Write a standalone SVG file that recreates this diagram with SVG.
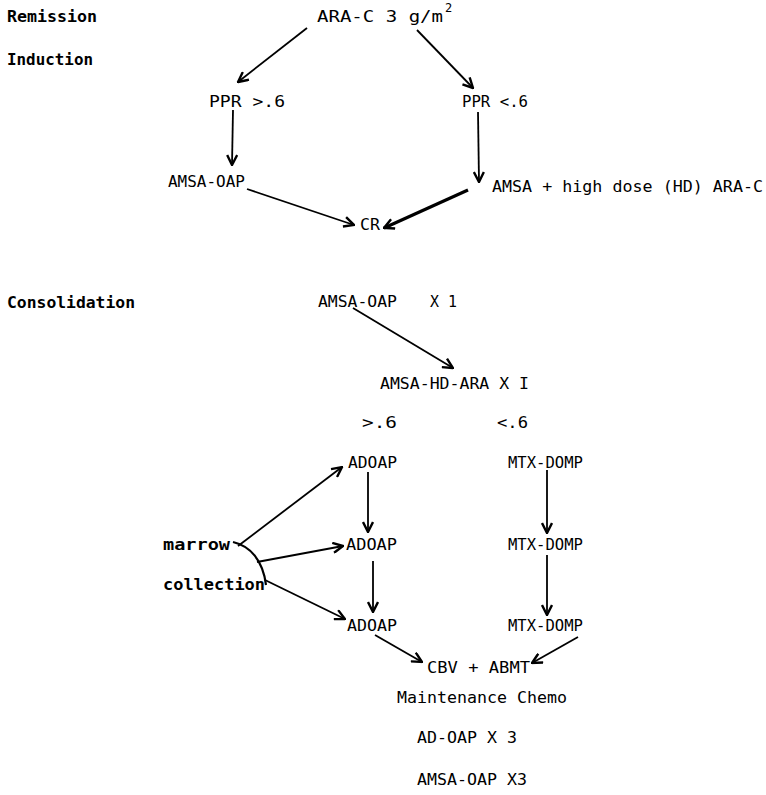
<svg xmlns="http://www.w3.org/2000/svg" width="766" height="795" viewBox="0 0 766 795">
<defs>
<style>
text{font-family:"DejaVu Sans Mono","Liberation Mono",monospace;font-size:16.5px;fill:#000}
.b{font-weight:bold;font-size:16px}
.sup{font-size:12px}
.ln{stroke:#000;stroke-width:1.8;fill:none;marker-end:url(#ah)}
.thick{stroke-width:3.2}
.curve{stroke:#000;stroke-width:2.2;fill:none}
</style>
<marker id="ah" markerUnits="userSpaceOnUse" viewBox="0 0 12 12" refX="11" refY="6" markerWidth="12" markerHeight="12" orient="auto">
<path d="M1,1 L11,6 L1,11" fill="none" stroke="#000" stroke-width="2.4"/>
</marker>
</defs>
<rect width="766" height="795" fill="#fff"/>
<g id="labels">
<text class="b" x="7" y="22" textLength="90" lengthAdjust="spacingAndGlyphs">Remission</text>
<text class="b" x="7" y="65" textLength="86" lengthAdjust="spacingAndGlyphs">Induction</text>
<text class="b" x="7" y="308" textLength="128" lengthAdjust="spacingAndGlyphs">Consolidation</text>
</g>
<g id="n-arac"><text x="317" y="22" textLength="126" lengthAdjust="spacingAndGlyphs">ARA-C 3 g/m</text><text class="sup" x="445" y="12">2</text></g>
<g id="n-ppr-hi"><text x="209" y="107" textLength="76" lengthAdjust="spacingAndGlyphs">PPR &gt;.6</text></g>
<g id="n-ppr-lo"><text x="462" y="107" textLength="66" lengthAdjust="spacingAndGlyphs">PPR &lt;.6</text></g>
<g id="n-amsa-oap"><text x="168" y="187" textLength="77" lengthAdjust="spacingAndGlyphs">AMSA-OAP</text></g>
<g id="n-amsa-hd"><text x="492" y="192" textLength="271" lengthAdjust="spacingAndGlyphs">AMSA + high dose (HD) ARA-C</text></g>
<g id="n-cr"><text x="360" y="230" textLength="20" lengthAdjust="spacingAndGlyphs">CR</text></g>
<g id="n-cons1"><text x="318" y="307" textLength="79" lengthAdjust="spacingAndGlyphs">AMSA-OAP</text><text x="430" y="307" textLength="27" lengthAdjust="spacingAndGlyphs">X 1</text></g>
<g id="n-cons2"><text x="380" y="389" textLength="149" lengthAdjust="spacingAndGlyphs">AMSA-HD-ARA X I</text></g>
<g id="n-gt"><text x="362" y="428" textLength="35" lengthAdjust="spacingAndGlyphs">&gt;.6</text></g>
<g id="n-lt"><text x="497" y="428" textLength="31" lengthAdjust="spacingAndGlyphs">&lt;.6</text></g>
<g id="n-adoap1"><text x="348" y="468" textLength="49" lengthAdjust="spacingAndGlyphs">ADOAP</text></g>
<g id="n-adoap2"><text x="346" y="550" textLength="51" lengthAdjust="spacingAndGlyphs">ADOAP</text></g>
<g id="n-adoap3"><text x="347" y="631" textLength="50" lengthAdjust="spacingAndGlyphs">ADOAP</text></g>
<g id="n-mtx1"><text x="508" y="468" textLength="75" lengthAdjust="spacingAndGlyphs">MTX-DOMP</text></g>
<g id="n-mtx2"><text x="508" y="550" textLength="75" lengthAdjust="spacingAndGlyphs">MTX-DOMP</text></g>
<g id="n-mtx3"><text x="508" y="631" textLength="75" lengthAdjust="spacingAndGlyphs">MTX-DOMP</text></g>
<g id="n-marrow"><text class="b" x="163" y="550" textLength="67" lengthAdjust="spacingAndGlyphs">marrow</text><text class="b" x="163" y="590" textLength="102" lengthAdjust="spacingAndGlyphs">collection</text></g>
<g id="n-cbv"><text x="427" y="673" textLength="103" lengthAdjust="spacingAndGlyphs">CBV + ABMT</text></g>
<g id="n-maint"><text x="397" y="703" textLength="170" lengthAdjust="spacingAndGlyphs">Maintenance Chemo</text></g>
<g id="n-adoap-x3"><text x="417" y="743" textLength="100" lengthAdjust="spacingAndGlyphs">AD-OAP X 3</text></g>
<g id="n-amsa-x3"><text x="417" y="785" textLength="110" lengthAdjust="spacingAndGlyphs">AMSA-OAP X3</text></g>
<g id="connectors">
<path class="ln" d="M307,28 L238,82"/>
<path class="ln" d="M417,30 L473,88"/>
<path class="ln" d="M233,110 L232,165"/>
<path class="ln" d="M478,112 L479,182"/>
<path class="ln" d="M247,189 L354,225"/>
<path class="ln thick" d="M468,190 L384,228"/>
<path class="ln" d="M353,308 L453,368"/>
<path class="curve" d="M233,542 C250,546 263,560 266,585"/>
<path class="ln" d="M238,546 L342,467"/>
<path class="ln" d="M257,562 L343,546"/>
<path class="ln" d="M265,580 L345,619"/>
<path class="ln" d="M368,472 L368,532"/>
<path class="ln" d="M373,561 L373,612"/>
<path class="ln" d="M547,470 L547,533"/>
<path class="ln" d="M547,555 L547,615"/>
<path class="ln" d="M375,635 L422,662"/>
<path class="ln" d="M578,637 L532,663"/>
</g>
</svg>
